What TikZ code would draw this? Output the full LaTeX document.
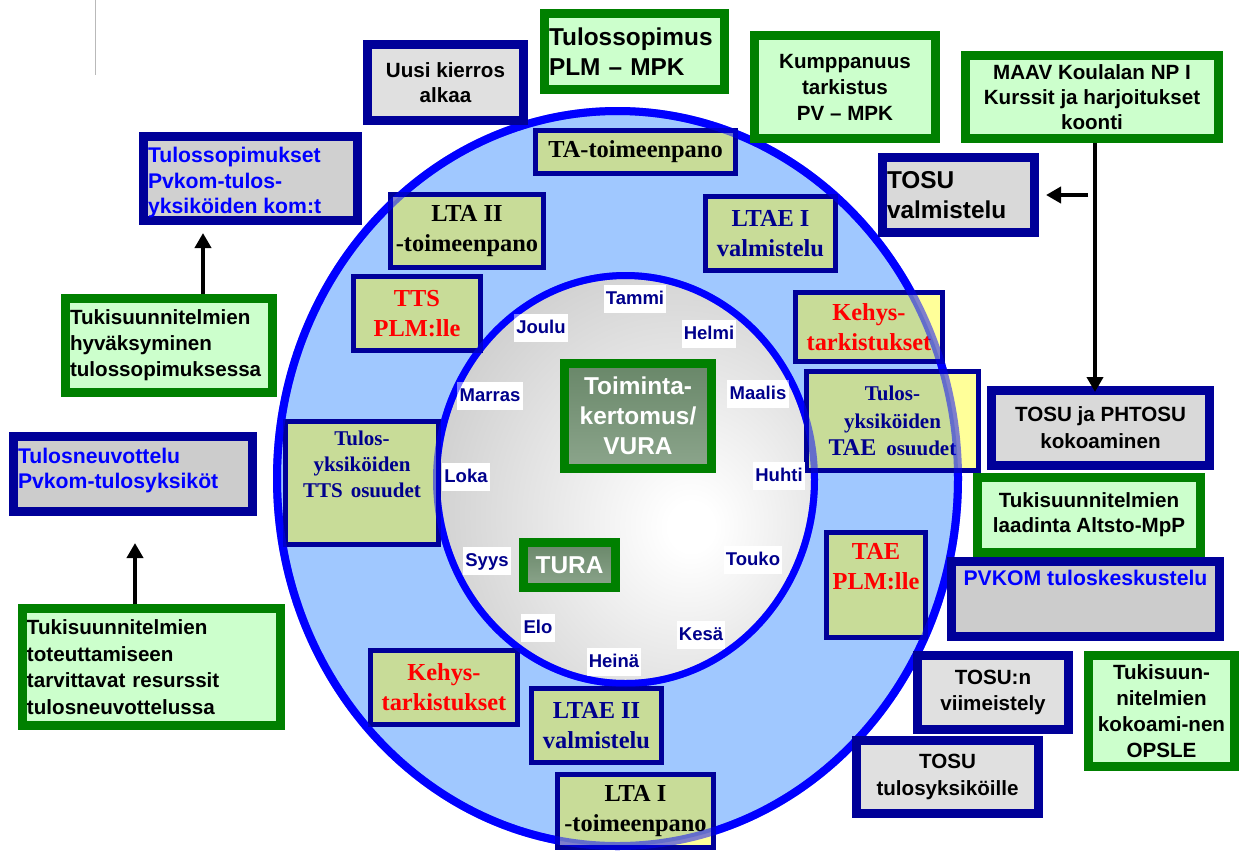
\documentclass[tikz,border=0pt]{standalone}
\usepackage{fontspec}
\setmainfont{Liberation Serif}
\setsansfont{Liberation Sans}
\usetikzlibrary{arrows.meta}
\definecolor{navyb}{RGB}{0,0,153}
\definecolor{navyt}{RGB}{0,0,140}
\definecolor{grn}{RGB}{0,128,0}
\definecolor{lgrn}{RGB}{204,255,204}
\definecolor{olivec}{RGB}{200,220,152}
\definecolor{yelc}{RGB}{255,255,153}
\definecolor{skyc}{RGB}{160,200,255}
\definecolor{ringblue}{RGB}{0,0,255}
\definecolor{gA}{RGB}{224,224,224}
\definecolor{gB}{RGB}{217,217,217}
\definecolor{gC}{RGB}{204,204,204}
\definecolor{gD}{RGB}{208,208,208}
\definecolor{txtblue}{RGB}{0,0,255}
\definecolor{dgA}{RGB}{105,135,105}
\definecolor{dgB}{RGB}{140,165,140}
\definecolor{shgray}{RGB}{188,188,188}
\definecolor{shgrayb}{RGB}{178,178,178}
\pgfdeclareradialshading{innerball}{\pgfpoint{9bp}{-6bp}}{color(0bp)=(white); color(3bp)=(white); color(45bp)=(shgray); color(62bp)=(shgrayb); color(100bp)=(shgrayb)}
\tikzset{
  obox/.style={draw=navyb, line width=9pt, inner sep=0pt, align=center,
    font=\sffamily\bfseries\fontsize{20.6}{25.5}\selectfont},
  gbox/.style={obox, draw=grn, fill=lgrn},
  rbox/.style={draw=navyb, line width=5pt, inner sep=0pt, align=center, fill=yelc,
    path picture={\fill[olivec] (ec) ellipse [x radius=340.5pt, y radius=367.5pt];},
    font=\rmfamily\bfseries\fontsize{24.4}{30}\selectfont},
  cbox/.style={draw=grn, line width=9pt, inner sep=0pt, align=center,
    top color=dgA, bottom color=dgB, text=white,
    font=\sffamily\bfseries\fontsize{24.4}{30}\selectfont},
  mon/.style={fill=white, text=navyt, inner xsep=2.3pt, inner ysep=0pt,
    minimum height=28pt, text height=14pt, text depth=3pt,
    font=\sffamily\bfseries\fontsize{18.5}{20}\selectfont},
  arr/.style={line width=4.5pt, -{Triangle[length=15pt,width=16pt]}},
}
\begin{document}
\begin{tikzpicture}[x=1pt,y=-1pt]
\useasboundingbox (0,0) rectangle (1239,855);
\draw[gray!55, line width=1pt] (95,0) -- (95,75);
\coordinate (ec) at (617.5,478.5);
\coordinate (ic) at (625.5,479.5);
% rings
\fill[skyc] (ec) ellipse [x radius=340.5pt, y radius=367.5pt];
\draw[ringblue, line width=8pt] (ec) ellipse [x radius=340.5pt, y radius=367.5pt];
\shade[shading=innerball] (ic) ellipse [x radius=189pt, y radius=204pt];
\draw[ringblue, line width=7pt] (ic) ellipse [x radius=189pt, y radius=204pt];
% ring boxes
\node[rbox, minimum width=200pt, minimum height=43pt] (ta) at (635.5,152) {TA-toimeenpano};
\node[rbox, minimum width=153pt, minimum height=73pt] (lta2) at (467,231) {LTA II\\-toimeenpano};
\node[rbox, text=navyt, minimum width=130pt, minimum height=74pt] (ltae1) at (770.5,233.5) {LTAE I\\valmistelu};
\node[rbox, text=red, minimum width=127pt, minimum height=74pt] (tts) at (417,313.5) {TTS\\PLM:lle};
\node[rbox, text=red, minimum width=147pt, minimum height=69pt] (kehys1) at (869,327) {Kehys-\\tarkistukset};
\node[rbox, text=navyt, minimum width=172pt, minimum height=99pt,
  font=\rmfamily\bfseries\fontsize{21}{27.5}\selectfont] (taeos) at (892.5,421)
  {Tulos-\\yksiköiden\\{\fontsize{24}{27.5}\selectfont TAE}\hspace{10pt}osuudet};
\node[rbox, text=navyt, minimum width=153pt, minimum height=123pt,
  font=\rmfamily\bfseries\fontsize{21}{26}\selectfont] (ttsos) at (362,483)
  {\parbox[c][118pt][t]{148pt}{\centering\vspace*{6.7pt}Tulos-\\yksiköiden\\TTS\hspace{8pt}osuudet}};
\node[rbox, text=red, minimum width=99pt, minimum height=105pt] (taeplm) at (876,585)
  {\parbox[c][100pt][t]{94pt}{\centering\vspace*{8.8pt}TAE\\PLM:lle}};
\node[rbox, text=red, minimum width=147pt, minimum height=74pt] (kehys2) at (444,687.5) {Kehys-\\tarkistukset};
\node[rbox, text=navyt, minimum width=130pt, minimum height=74pt] (ltae2) at (596.5,725.5) {LTAE II\\valmistelu};
\node[rbox, minimum width=156pt, minimum height=73pt] (lta1) at (635.5,811) {LTA I\\-toimeenpano};
% centre
\node[cbox, minimum width=147pt, minimum height=105pt] (toim) at (638,416) {Toiminta-\\kertomus/\\VURA};
\node[cbox, minimum width=92pt, minimum height=45pt] (tura) at (569.5,565) {TURA};
% months
\node[mon] (tammi) at (635,299) {Tammi};
\node[mon] (helmi) at (709,334) {Helmi};
\node[mon] (maalis) at (758,394) {Maalis};
\node[mon] (huhti) at (779,476) {Huhti};
\node[mon] (touko) at (753,560) {Touko};
\node[mon] (kesa) at (701,635) {Kesä};
\node[mon] (heina) at (614,662) {Heinä};
\node[mon] (elo) at (538,628) {Elo};
\node[mon] (syys) at (487,561) {Syys};
\node[mon] (loka) at (466,477) {Loka};
\node[mon] (marras) at (490,396) {Marras};
\node[mon] (joulu) at (541,328) {Joulu};
% translucent outlines over ring boxes
\draw[ringblue, line width=8pt, opacity=0.5] (ec) ellipse [x radius=340.5pt, y radius=367.5pt];
\draw[ringblue, line width=7pt, opacity=0.5] (ic) ellipse [x radius=189pt, y radius=204pt];
% outer boxes
\node[obox, fill=gA, minimum width=156pt, minimum height=76pt] (uusi) at (445.5,82.5) {Uusi kierros\\alkaa};
\node[gbox, minimum width=180pt, minimum height=76pt, text width=171pt, align=left,
  font=\sffamily\bfseries\fontsize{24.4}{30}\selectfont] (tsopim) at (634.5,51.5) {Tulossopimus\\PLM – MPK};
\node[gbox, minimum width=181pt, minimum height=103pt, font=\sffamily\bfseries\fontsize{20.6}{26}\selectfont] (kumpp) at (845,87) {Kumppanuus\\tarkistus\\PV – MPK};
\node[gbox, minimum width=253pt, minimum height=83pt, font=\sffamily\bfseries\fontsize{20.6}{25}\selectfont] (maav) at (1092,97) {MAAV Koulalan NP I\\Kurssit ja harjoitukset\\koonti};
\node[obox, fill=gB, minimum width=152pt, minimum height=75pt, text width=143pt, align=left,
  font=\sffamily\bfseries\fontsize{24.4}{30}\selectfont] (tosuv) at (958.5,195) {TOSU\\valmistelu};
\node[obox, fill=gB, minimum width=218pt, minimum height=75pt, font=\sffamily\bfseries\fontsize{20.6}{27}\selectfont] (pht) at (1100.5,428) {TOSU ja PHTOSU\\kokoaminen};
\node[gbox, minimum width=223pt, minimum height=75pt, font=\sffamily\bfseries\fontsize{20.6}{25}\selectfont] (laad) at (1089,515) {Tukisuunnitelmien\\laadinta Altsto-MpP};
\node[obox, fill=gC, text=txtblue, minimum width=268pt, minimum height=75pt,
  font=\sffamily\bfseries\fontsize{21.2}{25}\selectfont] (pvkom) at (1085.5,599)
  {\parbox[c][66pt][t]{250pt}{\centering\vspace*{4.5pt}PVKOM tuloskeskustelu}};
\node[obox, fill=gA, minimum width=151pt, minimum height=74pt] (viim) at (993,692.5) {TOSU:n\\viimeistely};
\node[gbox, minimum width=146pt, minimum height=111pt, font=\sffamily\bfseries\fontsize{20.6}{26}\selectfont] (opsle) at (1161.5,711) {Tukisuun-\\nitelmien\\kokoami-nen\\OPSLE};
\node[obox, fill=gA, minimum width=182pt, minimum height=73pt, font=\sffamily\bfseries\fontsize{20.6}{27}\selectfont] (tosut) at (947.5,777) {TOSU\\tulosyksiköille};
\node[obox, fill=gD, text=txtblue, minimum width=214pt, minimum height=84pt,
  font=\sffamily\bfseries\fontsize{21.2}{25.5}\selectfont] (tsopk) at (250.5,178.5)
  {\parbox[c][75pt][t]{205pt}{\raggedright\vspace*{6.5pt}Tulossopimukset\\Pvkom-tulos-\\yksiköiden kom:t}};
\node[gbox, minimum width=207pt, minimum height=94pt, text width=198pt, align=left,
  font=\sffamily\bfseries\fontsize{20.6}{26}\selectfont] (hyv) at (169,345.5) {Tukisuunnitelmien\\hyväksyminen\\tulossopimuksessa};
\node[obox, fill=gC, text=txtblue, minimum width=239pt, minimum height=75pt,
  font=\sffamily\bfseries\fontsize{21.2}{25}\selectfont] (tneuv) at (133,474)
  {\parbox[c][66pt][t]{230pt}{\raggedright\vspace*{7pt}Tulosneuvottelu\\Pvkom-tulosyksiköt}};
\node[gbox, minimum width=258pt, minimum height=117pt, text width=249pt, align=left,
  font=\sffamily\bfseries\fontsize{20.6}{26.7}\selectfont] (tot) at (151.5,667) {Tukisuunnitelmien\\toteuttamiseen\\tarvittavat resurssit\\tulosneuvottelussa};
% arrows
\coordinate (a1t) at (203,233);
\draw[arr] (hyv.north -| a1t) -- (a1t);
\coordinate (a2t) at (135,543);
\draw[arr] (tot.north -| a2t) -- (a2t);
\coordinate (a3t) at (1095,392);
\draw[arr] (maav.south -| a3t) -- (a3t);
\coordinate (a4s) at (1088,195);
\draw[arr] (a4s) -- ([xshift=7pt]tosuv.east);
\end{tikzpicture}
\end{document}
